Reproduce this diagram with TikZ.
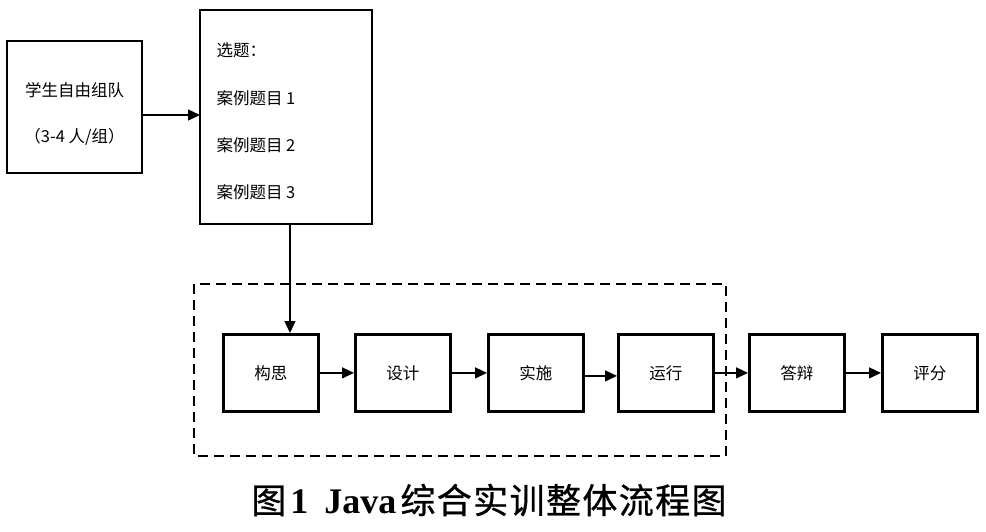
\documentclass[tikz,border=0pt]{standalone}
\usepackage{fontspec}
\setmainfont{Liberation Serif}
\newfontfamily\cjk{Noto Sans CJK SC}
\newfontfamily\cjkb[FakeBold=0.8,LetterSpace=4]{Noto Sans CJK SC}
\usetikzlibrary{arrows.meta}
\begin{document}
\begin{tikzpicture}[x=1pt,y=-1pt,
  bx/.style={draw,line width=2.8pt,inner sep=0pt},
  lbl/.style={font=\cjk\fontsize{16.5}{18}\selectfont},
  arr/.style={line width=1.4pt,-{Triangle[length=12pt,width=11pt]}},
  dashbox/.style={draw,line width=2.4pt,dash pattern=on 10pt off 6pt}]
\useasboundingbox[fill=white] (0,0) rectangle (986,531);
% boxes
\draw[bx] (7,41) rectangle (142,173);
\node[lbl] (t1) at (74.5,90) {学生自由组队};
\node[lbl] (t2) at (74.5,137) {（3-4 人/组）};
\draw[bx] (200,10) rectangle (372,224);
\node[lbl,anchor=west] (s0) at (213,50) {选题：};
\node[lbl,anchor=west] (s1) at (213,98) {案例题目 1};
\node[lbl,anchor=west] (s2) at (213,145) {案例题目 2};
\node[lbl,anchor=west] (s3) at (213,192) {案例题目 3};
\coordinate (b1e) at (142,115);
\coordinate (b2w) at (200,115);
\coordinate (b2s) at (290,224);
% dashed frame
\draw[dashbox] (194,284) rectangle (726,456);
% row
\foreach \n/\l/\x in {a/构思/222,b/设计/354,c/实施/487,d/运行/617,e/答辩/748,f/评分/881}{
  \node[bx,lbl,minimum width=95pt,minimum height=77pt,anchor=north west] (\n) at (\x,333) {\l};
}
\draw[arr] (b1e) -- (b2w);
\draw[arr] (b2s) -- (b2s |- a.north);
\draw[arr] (a.east) -- (b.west);
\draw[arr] (b.east) -- (c.west);
\draw[arr] ([yshift=-3pt]c.east) -- ([yshift=-3pt]d.west);
\draw[arr] (d.east) -- (e.west);
\draw[arr] (e.east) -- (f.west);
% caption
\node (cap) at (489,500) {\fontsize{36}{40}\selectfont\bfseries{\cjkb\mdseries\fontsize{35}{40}\selectfont 图}\hspace{4pt}1\hspace{16pt}Java\hspace{4pt}{\cjkb\mdseries\fontsize{35}{40}\selectfont 综合实训整体流程图}};
\end{tikzpicture}
\end{document}
